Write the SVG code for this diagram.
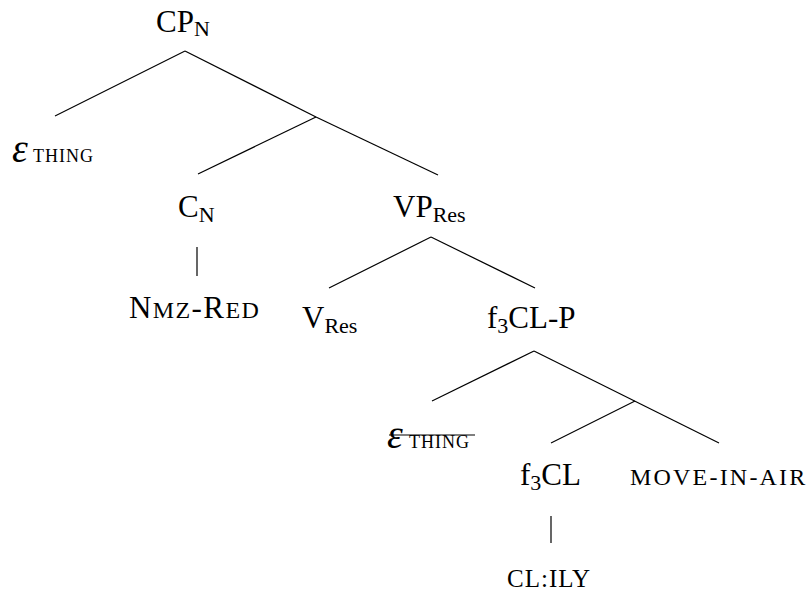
<svg xmlns="http://www.w3.org/2000/svg" width="812" height="592" viewBox="0 0 812 592">
<style>
text{font-family:"Liberation Serif","Times New Roman",serif;fill:#000;font-size:31px}
.sub{font-size:22px}
.sc{font-size:24px}
.eps{font-size:40px;font-style:italic}
.tsc{font-size:18px;letter-spacing:1px}
line{stroke:#000;stroke-width:1.2}
</style>
<rect width="812" height="592" fill="#fff"/>
<g id="connectors">
<line x1="185" y1="51" x2="55" y2="116"/>
<line x1="185" y1="51" x2="316" y2="117"/>
<line x1="316" y1="117" x2="198" y2="174"/>
<line x1="316" y1="117" x2="438" y2="175"/>
<line x1="197" y1="247" x2="197" y2="276"/>
<line x1="431" y1="237" x2="329" y2="288"/>
<line x1="431" y1="237" x2="535" y2="288"/>
<line x1="534" y1="351" x2="432" y2="401"/>
<line x1="534" y1="351" x2="719" y2="443"/>
<line x1="635" y1="401" x2="551" y2="443"/>
<line x1="551" y1="516" x2="551" y2="543"/>
</g>
<g id="CPN"><text x="156" y="32">CP<tspan class="sub" dy="4">N</tspan></text></g>
<g id="eps1"><text x="12" y="162" class="eps">ε</text><text x="33" y="162" class="tsc">THING</text></g>
<g id="CN"><text x="178" y="217">C<tspan class="sub" dy="5">N</tspan></text></g>
<g id="nmzred"><text x="129" y="318" style="letter-spacing:1.4px">N<tspan class="sc">MZ</tspan>-R<tspan class="sc">ED</tspan></text></g>
<g id="VPRes"><text x="393" y="217">VP<tspan class="sub" dy="5">Res</tspan></text></g>
<g id="VRes"><text x="302" y="328">V<tspan class="sub" dy="5">Res</tspan></text></g>
<g id="f3CLP"><text x="487" y="328">f<tspan class="sub" dy="5">3</tspan><tspan dy="-5">CL-P</tspan></text></g>
<g id="eps2"><text x="387" y="448" class="eps">ε</text><text x="409" y="448" class="tsc">THING</text><line x1="389" y1="435" x2="475" y2="435"/></g>
<g id="f3CL"><text x="520" y="485">f<tspan class="sub" dy="5">3</tspan><tspan dy="-5">CL</tspan></text></g>
<g id="move"><text x="630" y="485" style="font-size:24px;letter-spacing:2.2px">MOVE-IN-AIR</text></g>
<g id="clily"><text x="507" y="587" style="font-size:25px;letter-spacing:1px">CL:ILY</text></g>
</svg>
